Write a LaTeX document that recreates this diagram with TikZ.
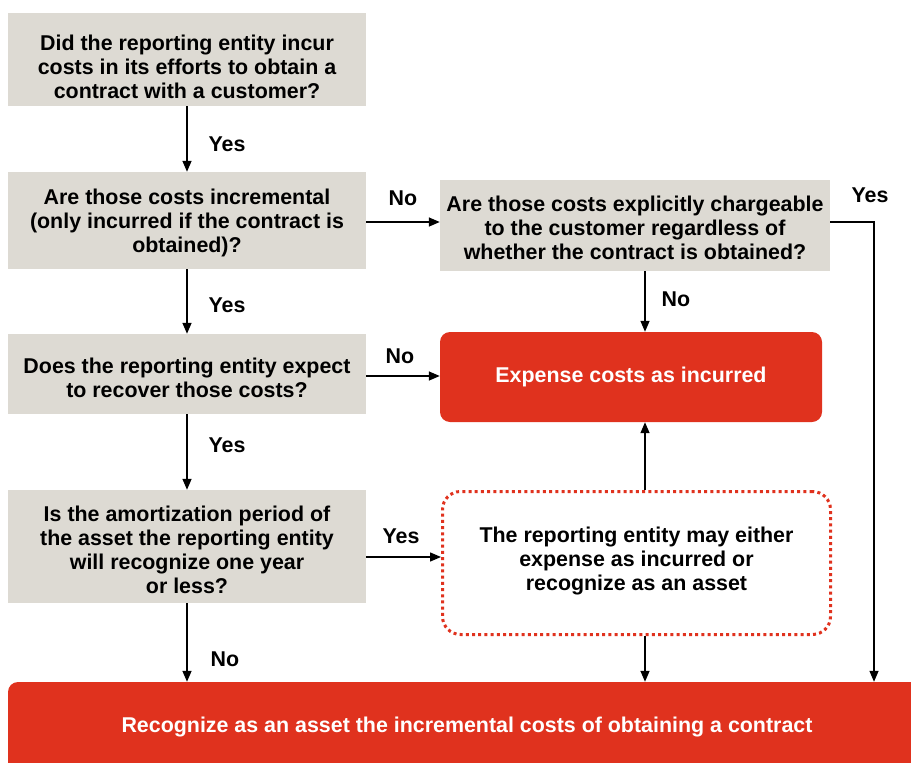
\documentclass[tikz,border=0pt]{standalone}
\usepackage{fontspec}
\setmainfont{Liberation Sans}
\usetikzlibrary{arrows.meta}
\definecolor{boxgray}{RGB}{221,218,211}
\definecolor{pwcred}{RGB}{224,50,30}
\begin{document}
\begin{tikzpicture}[x=1pt,y=-1pt,
  every node/.style={font=\fontsize{21.4}{24}\selectfont\bfseries},
  qbox/.style={fill=boxgray,draw=none,rectangle,align=center,inner sep=0pt},
  redbox/.style={fill=pwcred,draw=none,rounded corners=10pt,align=center,inner sep=0pt,text=white},
  dotbox/.style={draw=pwcred,line width=3pt,dash pattern=on 3pt off 3.2pt,rounded corners=18pt,align=center,inner sep=0pt,fill=white},
  tl/.style={align=center,inner sep=0pt},
  arr/.style={line width=1.4pt,-{Triangle[length=11pt,width=9pt]}},
  lbl/.style={inner sep=0pt}]
\clip (0,0) rectangle (911,763);
\useasboundingbox (0,0) rectangle (911,763);

\node[qbox,minimum width=358pt,minimum height=93pt,
  label={[tl,yshift=-7pt]center:{Did the reporting entity incur\\costs in its efforts to obtain a\\contract with a customer?}}] (b1) at (187,59.5) {};
\node[qbox,minimum width=358pt,minimum height=97pt,
  label={[tl,yshift=-2pt]center:{Are those costs incremental\\(only incurred if the contract is\\obtained)?}}] (b2) at (187,220.5) {};
\node[qbox,minimum width=390pt,minimum height=91pt,
  label={[tl,yshift=-2pt]center:{Are those costs explicitly chargeable\\to the customer regardless of\\whether the contract is obtained?}}] (b3) at (635,225.5) {};
\node[qbox,minimum width=358pt,minimum height=80pt,
  label={[tl,yshift=-4pt]center:{Does the reporting entity expect\\to recover those costs?}}] (b4) at (187,374) {};
\node[redbox,minimum width=382pt,minimum height=90pt] (exp) at (631,377)
  {Expense costs as incurred};
\node[qbox,minimum width=358pt,minimum height=113pt,
  label={[tl,yshift=-3pt]center:{Is the amortization period of\\the asset the reporting entity\\will recognize one year\\or less?}}] (b5) at (187,546.5) {};
\node[dotbox,minimum width=388pt,minimum height=143pt,
  label={[tl,yshift=2pt]center:{The reporting entity may either\\expense as incurred or\\recognize as an asset}}] (dot) at (636.5,563) {};
\node[redbox,minimum width=918pt,minimum height=96pt] (bot) at (467,730) {};
\node[lbl,text=white] (bottxt) at (467,727) {Recognize as an asset the incremental costs of obtaining a contract};

\coordinate (cx) at (645,0);
\coordinate (rx) at (874,0);
\coordinate (y2) at (0,222);
\coordinate (y4) at (0,376);
\coordinate (y5) at (0,557);

\draw[arr] (b1.south) -- (b2.north);
\draw[arr] (b2.south) -- (b4.north);
\draw[arr] (b4.south) -- (b5.north);
\draw[arr] (b5.south) -- (bot.north -| b5.south);
\draw[arr] (b2.east |- y2) -- (b3.west |- y2);
\draw[arr] (b4.east |- y4) -- (exp.west |- y4);
\draw[arr] (b5.east |- y5) -- (dot.west |- y5);
\draw[arr] (b3.south -| cx) -- (exp.north -| cx);
\draw[arr] (dot.north -| cx) -- (exp.south -| cx);
\draw[arr] (dot.south -| cx) -- (bot.north -| cx);
\draw[arr] (b3.east |- y2) -- (rx |- y2) -- (bot.north -| rx);

\node[lbl] (l1) at (227,144) {Yes};
\node[lbl] (l2) at (227,305) {Yes};
\node[lbl] (l3) at (227,445) {Yes};
\node[lbl] (l4) at (225,659) {No};
\node[lbl] (l5) at (403,198) {No};
\node[lbl] (l6) at (400,356) {No};
\node[lbl] (l7) at (401,536) {Yes};
\node[lbl] (l8) at (676,299) {No};
\node[lbl] (l9) at (870,195) {Yes};
\end{tikzpicture}
\end{document}
